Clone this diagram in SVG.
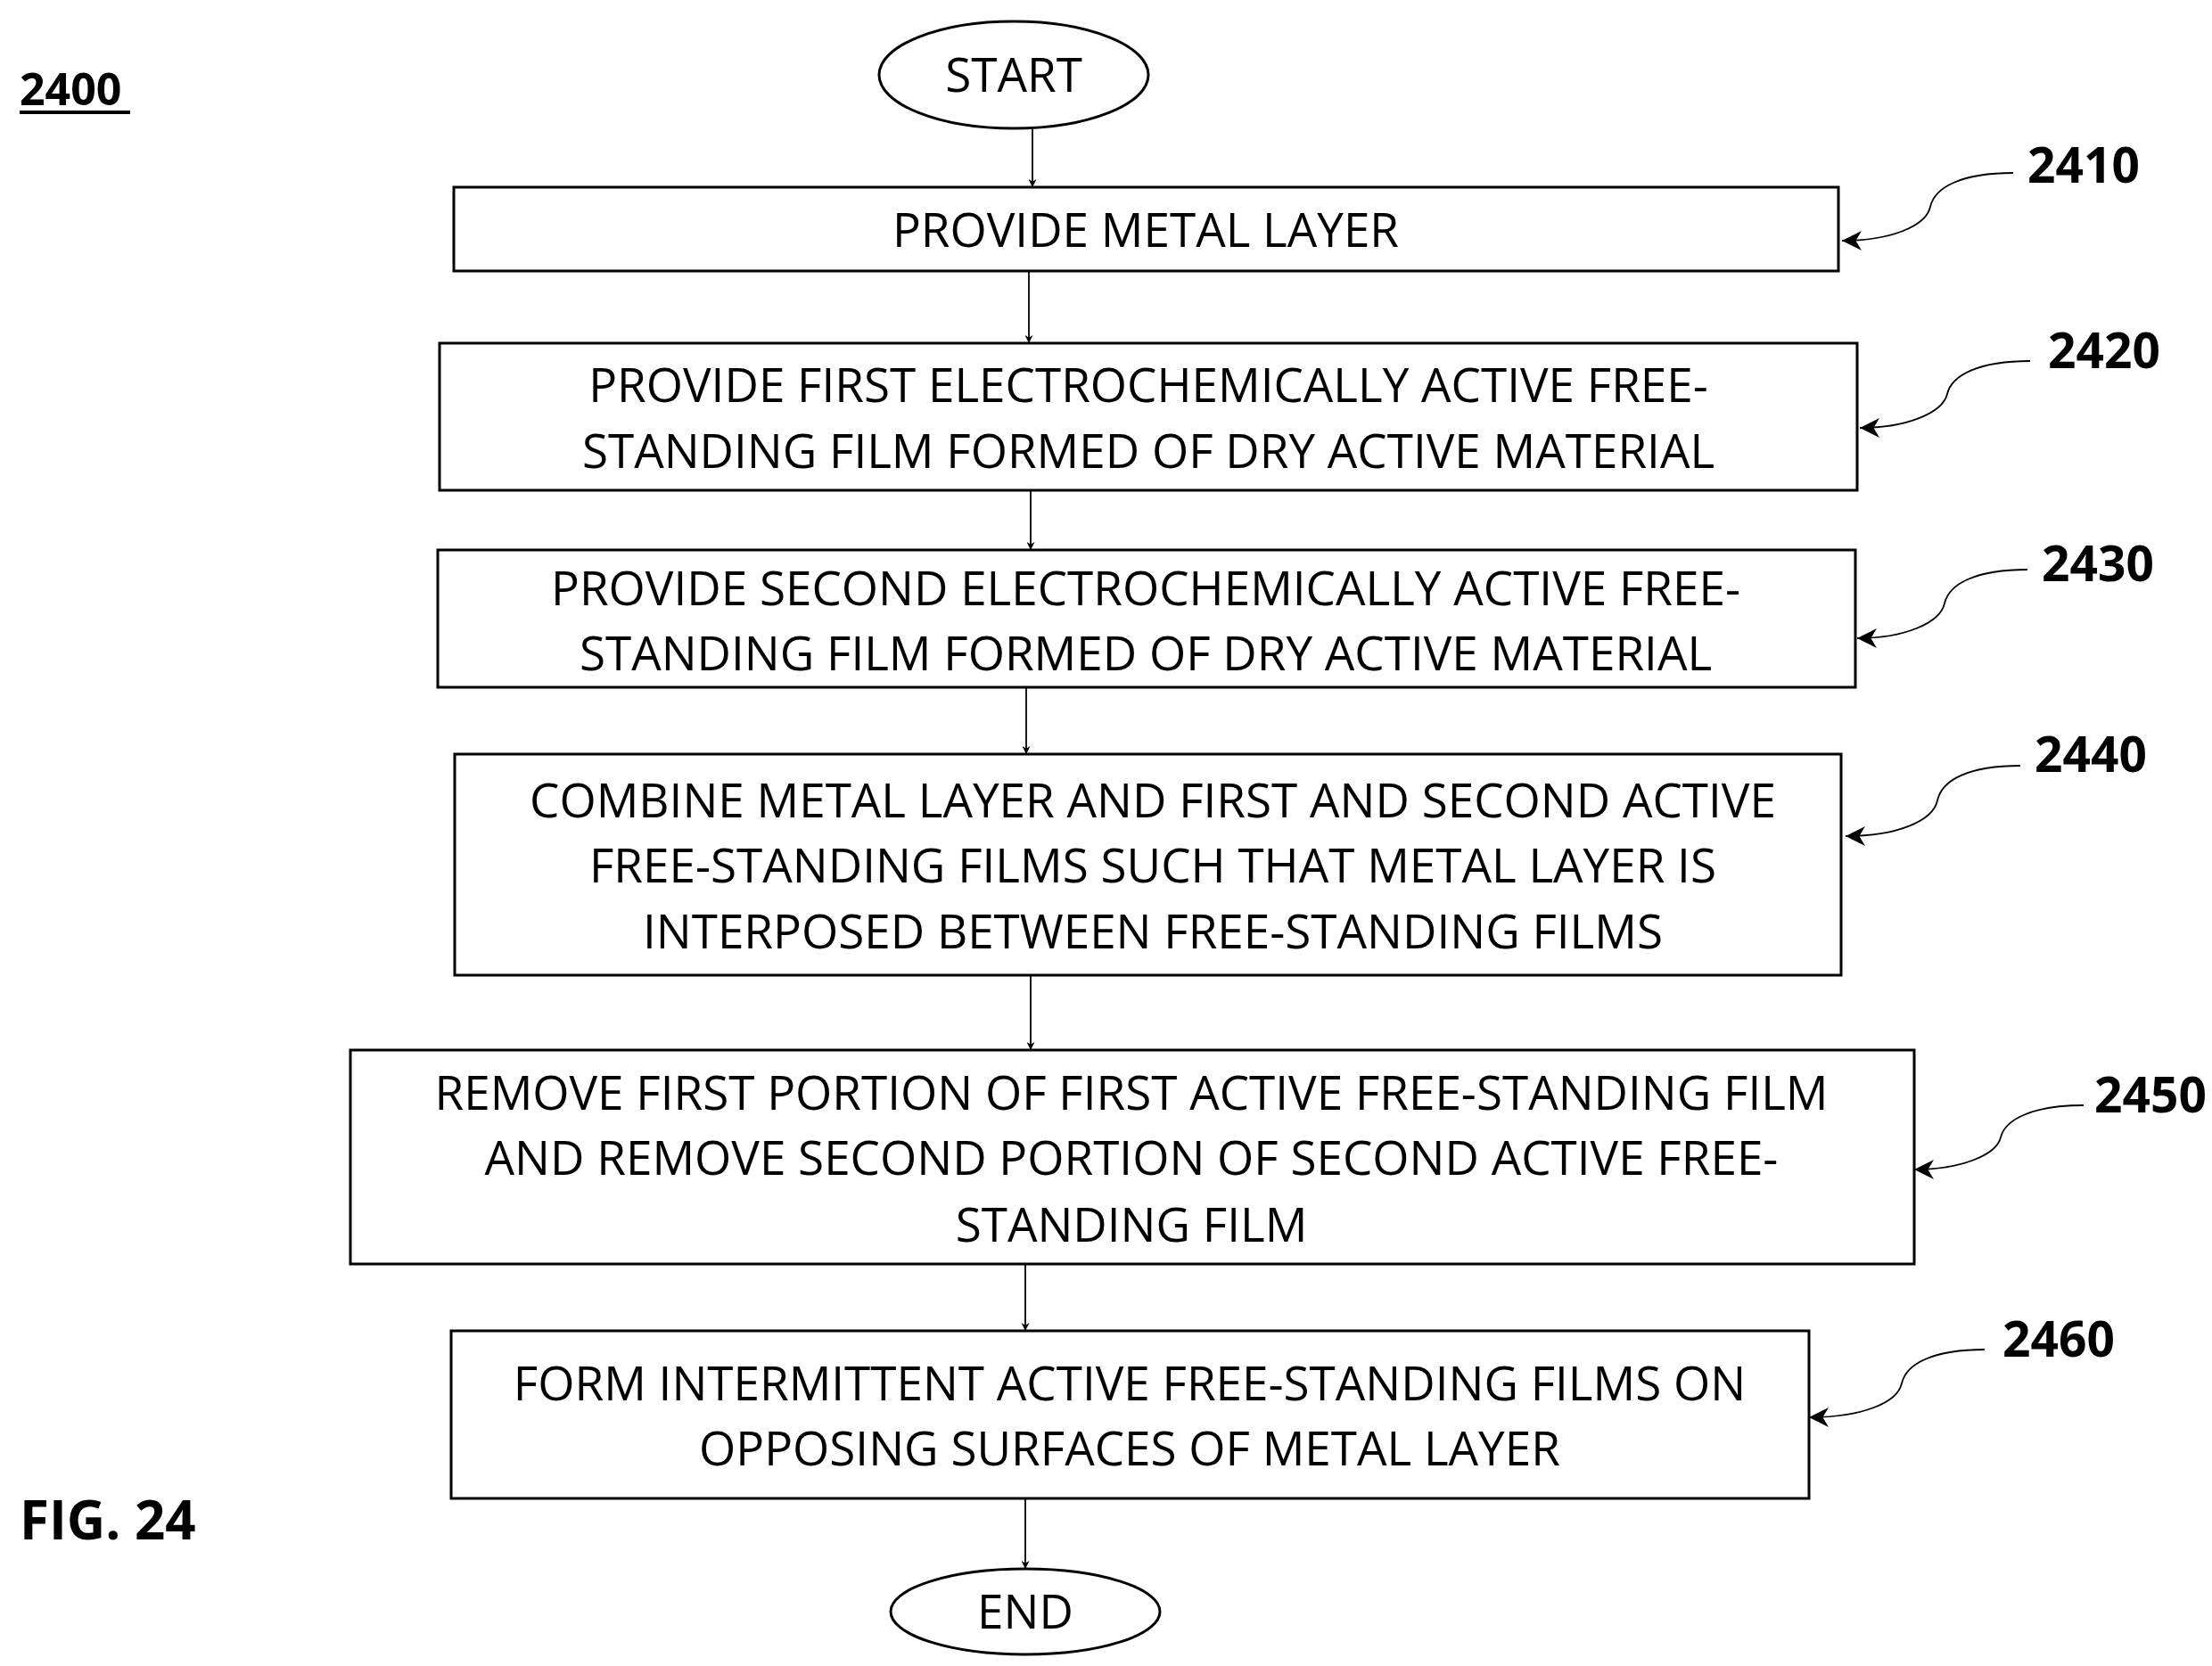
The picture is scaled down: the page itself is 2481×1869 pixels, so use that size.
<svg xmlns="http://www.w3.org/2000/svg" width="2481" height="1869" viewBox="0 0 2481 1869">
<style>
.b{fill:#fff;stroke:#000;stroke-width:3}
.t{font-family:"Open Sans","DejaVu Sans",sans-serif;font-size:53px;text-anchor:middle;fill:#000}
.l{font-family:"Open Sans","DejaVu Sans",sans-serif;font-size:55px;font-weight:bold;fill:#000}
.c{fill:none;stroke:#000;stroke-width:1.8}
</style>
<defs><marker id="a" viewBox="0 0 10 10" refX="10" refY="5" markerWidth="9" markerHeight="9" markerUnits="userSpaceOnUse" orient="auto"><path d="M0,0L10,5L0,10L3,5z" fill="#000"/></marker>
<marker id="h" viewBox="0 0 10 10" refX="10" refY="5" markerWidth="22" markerHeight="22" markerUnits="userSpaceOnUse" orient="auto"><path d="M0,0L10,5L0,10L3,5z" fill="#000"/></marker></defs>
<text class="l" x="22" y="118" style="font-size:50px">2400</text>
<line x1="22" y1="126" x2="146" y2="126" stroke="#000" stroke-width="4"/>
<text class="l" x="22" y="1727" style="font-size:60px">FIG. 24</text>
<g id="start"><ellipse class="b" cx="1137" cy="84" rx="151" ry="60"/><text class="t" x="1137" y="103">START</text></g>
<g id="n2410"><rect class="b" x="509" y="210" width="1553" height="94"/><text class="t" x="1285" y="277">PROVIDE METAL LAYER</text></g>
<g id="n2420"><rect class="b" x="493" y="385" width="1590" height="165"/><text class="t" x="1288" y="451">PROVIDE FIRST ELECTROCHEMICALLY ACTIVE FREE-</text><text class="t" x="1288" y="525">STANDING FILM FORMED OF DRY ACTIVE MATERIAL</text></g>
<g id="n2430"><rect class="b" x="491" y="617" width="1590" height="154"/><text class="t" x="1285" y="679">PROVIDE SECOND ELECTROCHEMICALLY ACTIVE FREE-</text><text class="t" x="1285" y="752">STANDING FILM FORMED OF DRY ACTIVE MATERIAL</text></g>
<g id="n2440"><rect class="b" x="510" y="846" width="1555" height="248"/><text class="t" x="1293" y="917">COMBINE METAL LAYER AND FIRST AND SECOND ACTIVE</text><text class="t" x="1293" y="990">FREE-STANDING FILMS SUCH THAT METAL LAYER IS</text><text class="t" x="1293" y="1064">INTERPOSED BETWEEN FREE-STANDING FILMS</text></g>
<g id="n2450"><rect class="b" x="393" y="1178" width="1754" height="240"/><text class="t" x="1269" y="1245">REMOVE FIRST PORTION OF FIRST ACTIVE FREE-STANDING FILM</text><text class="t" x="1269" y="1318">AND REMOVE SECOND PORTION OF SECOND ACTIVE FREE-</text><text class="t" x="1269" y="1393">STANDING FILM</text></g>
<g id="n2460"><rect class="b" x="506" y="1493" width="1523" height="188"/><text class="t" x="1267" y="1571">FORM INTERMITTENT ACTIVE FREE-STANDING FILMS ON</text><text class="t" x="1267" y="1644">OPPOSING SURFACES OF METAL LAYER</text></g>
<g id="end"><ellipse class="b" cx="1150" cy="1808" rx="151" ry="48"/><text class="t" x="1150" y="1827">END</text></g>
<g id="labels">
<text class="l" x="2337" y="205" text-anchor="middle">2410</text>
<text class="l" x="2360" y="413" text-anchor="middle">2420</text>
<text class="l" x="2353" y="652" text-anchor="middle">2430</text>
<text class="l" x="2345" y="866" text-anchor="middle">2440</text>
<text class="l" x="2412" y="1248" text-anchor="middle">2450</text>
<text class="l" x="2309" y="1522" text-anchor="middle">2460</text>
</g>
<g id="connectors">
<line class="c" x1="1158" y1="145" x2="1158" y2="210" marker-end="url(#a)"/>
<line class="c" x1="1154" y1="304" x2="1154" y2="385" marker-end="url(#a)"/>
<line class="c" x1="1156" y1="550" x2="1156" y2="617" marker-end="url(#a)"/>
<line class="c" x1="1151" y1="771" x2="1151" y2="846" marker-end="url(#a)"/>
<line class="c" x1="1156" y1="1094" x2="1156" y2="1178" marker-end="url(#a)"/>
<line class="c" x1="1150" y1="1418" x2="1150" y2="1493" marker-end="url(#a)"/>
<line class="c" x1="1150" y1="1681" x2="1150" y2="1760" marker-end="url(#a)"/>
<path class="c" d="M2258 194C2200 194 2170 210 2165 232S2120 270 2066 270" marker-end="url(#h)"/>
<path class="c" d="M2277 405C2219 405 2189 421 2184 442S2139 480 2086 480" marker-end="url(#h)"/>
<path class="c" d="M2274 639C2216 639 2186 655 2181 677S2136 716 2083 716" marker-end="url(#h)"/>
<path class="c" d="M2266 859C2208 859 2178 875 2173 898S2128 938 2070 938" marker-end="url(#h)"/>
<path class="c" d="M2337 1240C2279 1240 2249 1256 2244 1276S2199 1312 2147 1312" marker-end="url(#h)"/>
<path class="c" d="M2226 1514C2168 1514 2138 1530 2133 1552S2088 1590 2029 1590" marker-end="url(#h)"/>
</g>
</svg>
